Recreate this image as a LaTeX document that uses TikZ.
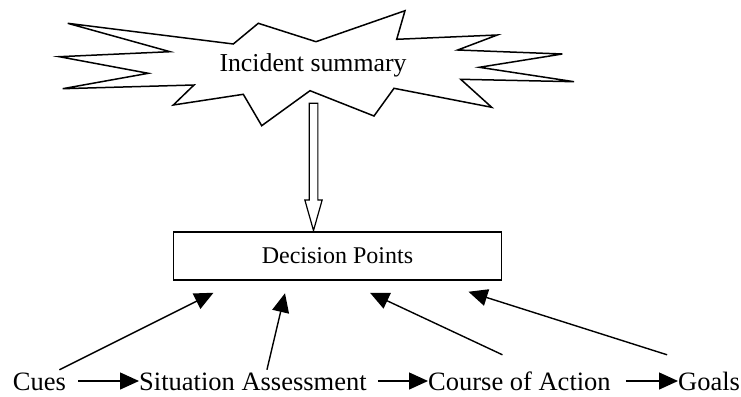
\documentclass[tikz,border=0pt]{standalone}
\usepackage{fontspec}
\setmainfont{Liberation Serif}
\usepackage{tikz}
\usetikzlibrary{calc,arrows.meta}
\tikzset{
  star/.style={draw=black, line width=1.5pt, line join=miter},
  block/.style={draw=black, line width=1.2pt},
  box/.style={draw=black, line width=1.5pt, inner sep=0pt, minimum width=328pt, minimum height=48pt, font=\fontsize{24}{28}\selectfont},
  lab/.style={inner sep=0pt, anchor=base west, text height=18pt, text depth=0pt, font=\fontsize{26.5}{30}\selectfont},
  arr/.style={draw=black, line width=1.4pt, -{Triangle[length=19pt,width=17pt]}},
}

\begin{document}
\begin{tikzpicture}[x=1pt,y=-1pt]
  \useasboundingbox (0,0) rectangle (741,396);

  \draw[star] (67.7,23.3) -- (233.3,44) -- (258.3,23.3) -- (316,41.7) -- (405,10.7)
    -- (396.7,39.3) -- (497.3,35) -- (457.7,50) -- (562.3,54) -- (479.3,67.3)
    -- (574,81.7) -- (460.7,79.3) -- (491.7,107.3) -- (394,88.3) -- (374,116)
    -- (310,90.7) -- (261.7,125.7) -- (243.3,94.3) -- (173.3,105) -- (194,85)
    -- (62.7,88.7) -- (148.3,73.3) -- (59.3,56.7) -- (170,51.7) -- cycle;
  \node[font=\fontsize{25.8}{30}\selectfont, inner sep=0pt] (inc) at (313,65) {Incident summary};

  \node[box] (dp) at (337.5,256) {Decision Points};

  \coordinate (stem) at (313.5,103.3);
  \draw[block] ($(stem)+(-4.35,0)$) -- ++(0,96.7) -- ++(-4.3,0) -- ++(8.65,30.5)
    -- ++(8.65,-30.5) -- ++(-4.3,0) -- ++(0,-96.7) -- cycle;

  \node[lab] (cues) at (12.7,390) {Cues};
  \node[lab] (sit) at (139,390) {Situation Assessment};
  \node[lab] (coa) at (428,390) {Course of Action};
  \node[lab] (goals) at (678,390) {Goals};

  \draw[arr, shorten <=12pt] (cues.east) -- (sit.west);
  \draw[arr, shorten <=11pt] (sit.east) -- (coa.west);
  \draw[arr, shorten <=15pt] (coa.east) -- (goals.west);

  \draw[arr] ($(cues.north)+(20,-2)$) -- ($(dp.south)+(-124,12)$);
  \draw[arr] ($(sit.north)+(14,-2)$) -- ($(dp.south)+(-52.5,12.5)$);
  \draw[arr] ($(coa.north)+(-17,-17)$) -- ($(dp.south)+(32.5,12)$);
  \draw[arr] ($(goals.north)+(-42,-17)$) -- ($(dp.south)+(131,11)$);
\end{tikzpicture}
\end{document}
